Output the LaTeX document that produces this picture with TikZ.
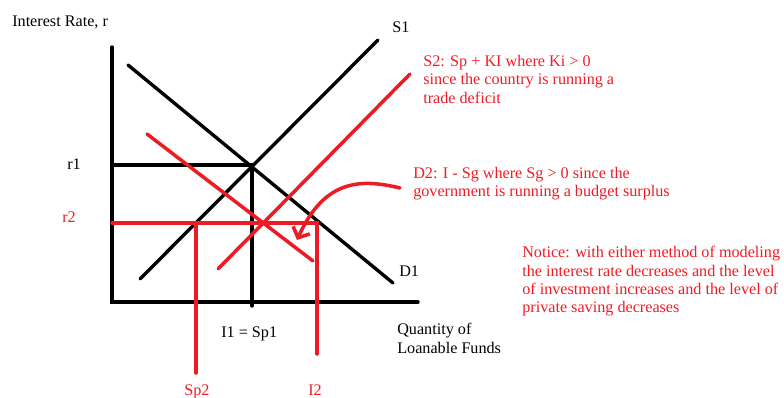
\documentclass[tikz,border=0pt]{standalone}
\usepackage{fontspec}
\setmainfont{Liberation Serif}
\usetikzlibrary{arrows.meta,calc}
\definecolor{paintred}{RGB}{237,28,36}

\tikzset{
  blackline/.style={line width=2.4pt,line cap=round},
  redline/.style={draw=paintred,line width=2.5pt,line cap=round},
  lbl/.style={inner sep=0pt,anchor=base west,font=\fontsize{11.5}{13.1}\selectfont},
  redlbl/.style={lbl,text=paintred},
  note/.style={lbl,anchor=north west,align=left}
}

\begin{document}
\begin{tikzpicture}[x=0.025cm,y=-0.025cm]
\useasboundingbox (0,0) rectangle (784,398);

% -------- Axes and first equilibrium --------
\coordinate (ytop) at (112,47);
\coordinate (origin) at (112,302);
\coordinate (xend) at (418,302);
\coordinate (E1) at (252,165);

\draw[blackline] (ytop) -- (origin) -- (xend);
\draw[blackline] (140,279) coordinate (S1a) -- (378,40) coordinate (S1b);
\draw[blackline] (128,65) coordinate (D1a) -- (393,283) coordinate (D1b);
\draw[blackline] (origin |- E1) -- (E1) -- ($(E1 |- origin)+(0,4)$);

% -------- Shifted curves (red) --------
\coordinate (E2) at (317,223);
\draw[redline] (147,134) coordinate (D2a) -- (313,261) coordinate (D2b);
\draw[redline] (218,269) coordinate (S2a) -- (410,74) coordinate (S2b);
\draw[redline] (origin |- E2) -- (E2) -- (317,354) coordinate (I2bot);
\draw[redline] (196,223) coordinate (Sp2top) -- (196,373) coordinate (Sp2bot);
\coordinate (curvestart) at (400,188);
\coordinate (curveend) at (297,240);
\draw[redline,-{Straight Barb[length=6pt,width=13pt]}]
  (curvestart) .. controls (362,179) and (325,178) .. (curveend);

% -------- Labels --------
\node[lbl] (ylabel) at (12,27) {Interest Rate, r};
\node[lbl] (s1lbl) at (392,33) {S1};
\node[lbl] (d1lbl) at (399,277) {D1};
\node[lbl] (r1lbl) at (67,170) {r1};
\node[redlbl] (r2lbl) at (62,223) {r2};
\node[lbl] (eqlbl) at (221,338) {I1 = Sp1};
\node[redlbl] (sp2lbl) at (184,396) {Sp2};
\node[redlbl] (i2lbl) at (308,396) {I2};
\node[note] (xlabel) at (397,323) {Quantity of\\Loanable Funds};

% -------- Notes --------
\node[note,text=paintred] (s2note) at (423,55)
{S2: Sp + KI where Ki > 0\\since the country is running a\\trade deficit};
\node[note,text=paintred] (d2note) at (413,167)
{D2: I - Sg where Sg > 0 since the\\government is running a budget surplus};
\node[note,text=paintred] (notice) at (522,246)
{Notice: with either method of modeling\\the interest rate decreases and the level\\of investment increases and the level of\\private saving decreases};

\end{tikzpicture}
\end{document}
